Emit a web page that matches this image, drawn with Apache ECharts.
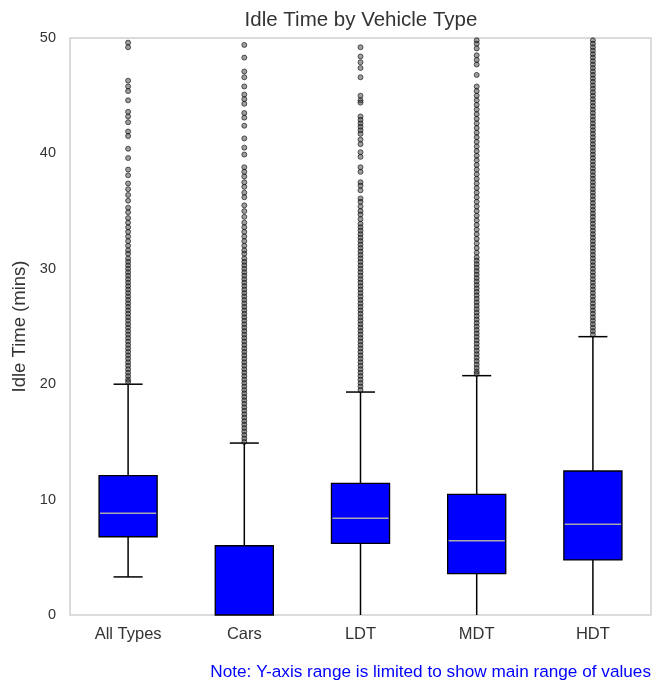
<!DOCTYPE html>
<html>
<head>
<meta charset="utf-8">
<script src="https://cdn.jsdelivr.net/npm/echarts@6/dist/echarts.min.js"></script>
<style>
html,body{margin:0;padding:0;background:#fff;}
#chart{width:652px;height:681px;}
</style>
</head>
<body>
<div id="chart"></div>
<script>
const categories = ['All Types', 'Cars', 'LDT', 'MDT', 'HDT'];
const whiskerLow = [3.3, 0, 0, 0, 0];
const q1 = [6.78, 0, 6.21, 3.58, 4.77];
const median = [8.82, 0, 8.38, 6.44, 7.86];
const q3 = [12.07, 6.0, 11.41, 10.46, 12.48];
const whiskerHigh = [20.0, 14.9, 19.32, 20.74, 24.12];
const yTicks = [0, 10, 20, 30, 40, 50];

const allTypesOutliers = [49.6, 49.2, 46.3, 45.8, 45.4, 44.6, 43.6, 43.2, 42.7, 41.9, 41.5, 40.4, 39.6, 38.6, 38.1, 37.4, 36.9, 36.4, 35.9, 35.3, 34.9, 34.4, 34.0, 33.6, 33.2, 32.8, 32.4, 32.0, 31.6, 31.3, 30.9, 30.6, 30.3, 30.0, 29.7, 29.4, 29.1, 28.8, 28.5, 28.2, 27.9, 27.6, 27.3, 27.0, 26.7, 26.4, 26.1, 25.8, 25.5, 25.2, 24.9, 24.6, 24.3, 24.0, 23.7, 23.4, 23.1, 22.8, 22.5, 22.2, 21.9, 21.6, 21.3, 21.0, 20.7, 20.4, 20.2];
const carsOutliers = [49.4, 48.3, 47.1, 46.6, 45.8, 45.1, 44.7, 44.3, 43.5, 43.1, 42.4, 41.3, 40.5, 39.9, 38.8, 38.4, 38.0, 37.5, 37.1, 36.6, 36.2, 35.5, 35.0, 34.5, 34.0, 33.6, 33.2, 32.8, 32.4, 32.0, 31.6, 31.3, 30.9, 30.6, 30.3, 30.0, 29.7, 29.4, 29.1, 28.8, 28.5, 28.2, 27.9, 27.6, 27.3, 27.0, 26.7, 26.4, 26.1, 25.8, 25.5, 25.2, 24.9, 24.6, 24.3, 24.0, 23.7, 23.4, 23.1, 22.8, 22.5, 22.2, 21.9, 21.6, 21.3, 21.0, 20.7, 20.4, 20.1, 19.8, 19.5, 19.2, 18.9, 18.6, 18.3, 18.0, 17.7, 17.4, 17.1, 16.8, 16.5, 16.2, 15.9, 15.6, 15.3, 15.0];
const ldtOutliers = [49.2, 48.4, 47.9, 47.4, 46.6, 45.0, 44.6, 44.4, 43.2, 42.9, 42.6, 42.3, 42.0, 41.7, 41.2, 40.8, 40.1, 39.7, 38.8, 38.4, 37.5, 37.2, 36.8, 36.1, 35.8, 35.4, 35.0, 34.7, 34.3, 33.9, 33.6, 33.3, 33.0, 32.7, 32.4, 32.1, 31.8, 31.5, 31.2, 30.9, 30.6, 30.3, 30.0, 29.7, 29.4, 29.1, 28.8, 28.5, 28.2, 27.9, 27.6, 27.3, 27.0, 26.7, 26.4, 26.1, 25.8, 25.5, 25.2, 24.9, 24.6, 24.3, 24.0, 23.7, 23.4, 23.1, 22.8, 22.5, 22.2, 21.9, 21.6, 21.3, 21.0, 20.7, 20.4, 20.1, 19.8, 19.5];
const mdtOutliers = [49.8, 49.5, 49.1, 48.5, 48.1, 47.7, 46.8, 45.8, 45.4, 45.0, 44.6, 44.2, 43.8, 43.4, 43.0, 42.6, 42.2, 41.8, 41.4, 41.0, 40.6, 40.2, 39.8, 39.4, 39.0, 38.6, 38.2, 37.8, 37.4, 37.0, 36.6, 36.2, 35.8, 35.4, 35.0, 34.6, 34.2, 33.8, 33.4, 33.0, 32.6, 32.2, 31.8, 31.4, 31.0, 30.7, 30.4, 30.1, 29.8, 29.5, 29.2, 28.9, 28.6, 28.3, 28.0, 27.7, 27.4, 27.1, 26.8, 26.5, 26.2, 25.9, 25.6, 25.3, 25.0, 24.7, 24.4, 24.1, 23.8, 23.5, 23.2, 22.9, 22.6, 22.3, 22.0, 21.7, 21.4, 21.1, 20.9];
const hdtOutliers = [49.8, 49.5, 49.2, 48.9, 48.6, 48.3, 48.0, 47.7, 47.4, 47.1, 46.8, 46.5, 46.2, 45.9, 45.6, 45.3, 45.0, 44.7, 44.4, 44.1, 43.8, 43.5, 43.2, 42.9, 42.6, 42.3, 42.0, 41.7, 41.4, 41.1, 40.8, 40.5, 40.2, 39.9, 39.6, 39.3, 39.0, 38.7, 38.4, 38.1, 37.8, 37.5, 37.2, 36.9, 36.6, 36.3, 36.0, 35.7, 35.4, 35.1, 34.8, 34.5, 34.2, 33.9, 33.6, 33.3, 33.0, 32.7, 32.4, 32.1, 31.8, 31.5, 31.2, 30.9, 30.6, 30.3, 30.0, 29.7, 29.4, 29.1, 28.8, 28.5, 28.2, 27.9, 27.6, 27.3, 27.0, 26.7, 26.4, 26.1, 25.8, 25.5, 25.2, 24.9, 24.6, 24.3];

const outlierLists = [allTypesOutliers, carsOutliers, ldtOutliers, mdtOutliers, hdtOutliers];
const outlierData = [];
outlierLists.forEach(function (list, i) {
  list.forEach(function (v) { outlierData.push([i, v]); });
});
const boxData = categories.map(function (c, i) {
  return [i, whiskerLow[i], q1[i], median[i], q3[i], whiskerHigh[i]];
});

const FONT = '"Liberation Sans", Arial, Helvetica, sans-serif';
const chart = echarts.init(document.getElementById('chart'), null, {renderer: 'canvas'});

function renderBox(params, api) {
  const i = api.value(0);
  const lo = api.value(1), a = api.value(2), m = api.value(3), b = api.value(4), hi = api.value(5);
  const band = api.size([1, 0])[0];
  const cx = api.coord([i, 0])[0];
  const yLo = api.coord([i, lo])[1];
  const yA = api.coord([i, a])[1];
  const yM = api.coord([i, m])[1];
  const yB = api.coord([i, b])[1];
  const yHi = api.coord([i, hi])[1];
  const halfBox = band * 0.25;
  const halfCap = band * 0.125;
  const lineStyle = {stroke: '#000', lineWidth: 1.5};
  const children = [];
  children.push({type: 'line', shape: {x1: cx, y1: yB, x2: cx, y2: yHi}, style: lineStyle});
  children.push({type: 'line', shape: {x1: cx - halfCap, y1: yHi, x2: cx + halfCap, y2: yHi}, style: lineStyle});
  if (a > lo) {
    children.push({type: 'line', shape: {x1: cx, y1: yA, x2: cx, y2: yLo}, style: lineStyle});
  }
  if (lo > 0) {
    children.push({type: 'line', shape: {x1: cx - halfCap, y1: yLo, x2: cx + halfCap, y2: yLo}, style: lineStyle});
  }
  children.push({type: 'rect', shape: {x: cx - halfBox, y: yB, width: halfBox * 2, height: yA - yB},
    style: {fill: '#0000ff', stroke: '#000', lineWidth: 1.3}});
  if (m > 0) {
    children.push({type: 'line', shape: {x1: cx - halfBox + 1, y1: yM, x2: cx + halfBox - 1, y2: yM},
      style: {stroke: '#aaaaaa', lineWidth: 1.5}});
  }
  return {type: 'group', children: children};
}

chart.setOption({
  backgroundColor: '#fff',
  animation: false,
  grid: {left: 70, right: 1, top: 38, bottom: 66, show: true, borderColor: '#cfcfcf', borderWidth: 1.5, backgroundColor: '#fff'},
  xAxis: {
    type: 'category',
    data: categories,
    axisLine: {show: false},
    axisTick: {show: false},
    splitLine: {show: false},
    axisLabel: {color: '#333', fontSize: 16.5, fontFamily: FONT, margin: 11}
  },
  yAxis: {
    type: 'value',
    min: yTicks[0],
    max: yTicks[yTicks.length - 1],
    interval: 10,
    axisLine: {show: false},
    axisTick: {show: false},
    splitLine: {show: false},
    axisLabel: {color: '#333', fontSize: 14.5, fontFamily: FONT, margin: 14},
    name: 'Idle Time (mins)',
    nameLocation: 'middle',
    nameGap: 41,
    nameTextStyle: {color: '#333', fontSize: 18.5, fontFamily: FONT}
  },
  series: [
    {
      type: 'custom',
      renderItem: renderBox,
      data: boxData,
      encode: {x: 0, y: [1, 2, 3, 4, 5]},
      z: 2
    },
    {
      type: 'scatter',
      data: outlierData,
      symbol: 'circle',
      symbolSize: 5,
      itemStyle: {color: 'rgba(55,55,55,0.6)', borderColor: 'rgba(0,0,0,0.75)', borderWidth: 1},
      z: 3
    }
  ],
  graphic: [
    {type: 'text', x: 361, y: 20, style: {text: 'Idle Time by Vehicle Type', textAlign: 'center', textVerticalAlign: 'middle', fontSize: 20.5, fontFamily: FONT, fill: '#333'}},
    {type: 'text', x: 651, y: 672, style: {text: 'Note: Y-axis range is limited to show main range of values', textAlign: 'right', textVerticalAlign: 'middle', fontSize: 17.2, fontFamily: FONT, fill: '#0000ff'}}
  ]
});
</script>
</body>
</html>
